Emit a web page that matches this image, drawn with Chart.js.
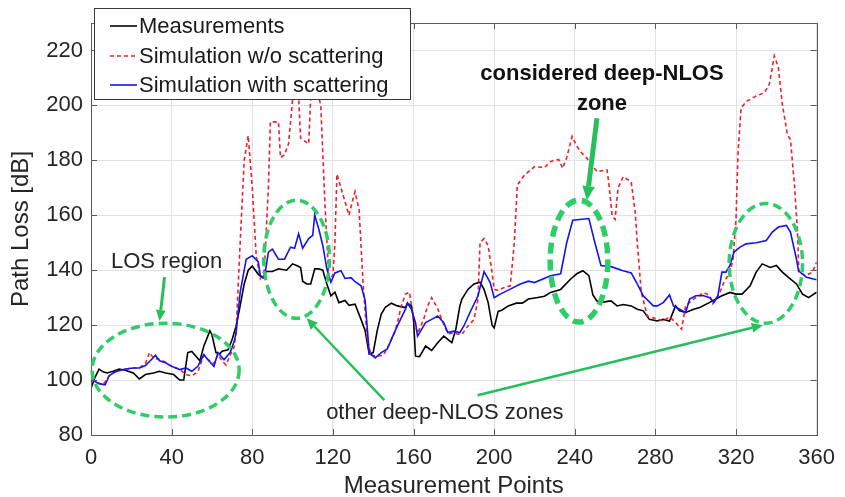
<!DOCTYPE html>
<html>
<head>
<meta charset="utf-8">
<script src="https://cdn.jsdelivr.net/npm/chart.js@4/dist/chart.umd.min.js"></script>
<style>
  html, body { margin: 0; padding: 0; background: #ffffff; }
  #wrap { width: 845px; height: 497px; }
</style>
</head>
<body>
<div id="wrap"><canvas id="c" width="845" height="497"></canvas></div>
<script>
// ---------------- data ----------------
const xTicks = [0, 40, 80, 120, 160, 200, 240, 280, 320, 360];
const yTicks = [80, 100, 120, 140, 160, 180, 200, 220];

const measX = [0,2,4,6,8,11,14,17,21,24,27,31,34,37,41,44,46,48,50,54,56,59,60,62,64,65,68,70,72,74,76,78,80,83,85,87,90,93,97,100,102,104,105,107,109,111,113,115,117,119,121,123,126,128,131,134,136,138,140,142,144,146,149,152,156,157,159,160,161,163,166,169,172,175,179,181,183,184,187,190,193,195,197,199,200,202,204,207,211,214,217,221,225,228,233,238,241,244,247,249,251,253,258,261,264,268,271,274,277,281,284,287,290,292,295,299,302,307,310,313,317,320,323,327,330,333,337,340,343,346,350,353,356,360];
const measY = [97,101,104,103,102.6,103.2,104,103.6,102.6,100.4,102,102.6,103.2,102.6,102,100,100,110,110.4,107,112.4,118,116.5,110,109.6,110.5,111,114.8,119.7,127,135,140,141.5,138.5,137.3,139.5,139.5,140.5,140,142.3,141.7,141,136,135,135,140.5,140.5,140,135,130.7,132,128.2,129,127.2,127.6,122,118,109.5,110,118,124,126.5,128,127,126.4,128,127,122,108.7,108.5,112.4,110.8,113.6,116,113.6,118.5,127,129.5,133,135,135.6,133,128.3,120,119,125,125.5,127,128,128,129.5,130,130.5,131.9,133,136.8,138.7,139.8,138,131,128.8,128.3,128.8,127,127.5,127,125.8,125.2,122.1,121.5,122.1,121.5,127,125.2,124.6,125.8,126.4,128.3,129.5,130.7,131.9,131.3,131.3,134.3,139.3,142.3,141,141.7,139.3,137.4,135,131.3,130,132];

const noScatX = [0,2,4,6,9,12,17,21,24,27,29,31,34,37,40,44,47,50,53,56,58,61,63,65,67,69,71,72,74,76,78,80,82,84,86,88,89,93,94,96,98,100,103,104,106,108,109,113,114,116,118,120,121,122,124,126,128,130,131,133,135,137,139,142,145,148,151,154,156,158,160,162,165,167,169,172,174,177,180,184,187,190,192,193,195,197,199,200,202,205,208,210,211.5,215,220,225,228,232,234,236,238.7,241,243,246,251,256,257,258.5,260,261.5,264,268,270,271,273,276,280,284,287,290,293,295,299,304,307,308.5,312,314,317,318.5,320,321,322.5,325,330,334,336.5,339,341,343,345.5,347,349,350.5,351.2,354.5,358,360];
const noScatY = [100,99.5,98.8,98.3,101.5,103,104,104.4,104.4,106,110,108,107.5,106.5,105,104,102,101.5,103,109,107.5,106,109.3,107,105.5,109,112,118,150,180,189,170,145,137,140,170,194,194,181,182,186,202,203,188,187,186,203,203,200,165,137,138,150,175,170,165,160,166,168.6,162,135,115,109,108.7,109,113,118,127,131.3,132,122,117,122,127,130,126,122,117,117,116.6,119.7,122,129.5,150,151.5,149,139,133,132.7,133.7,134.3,150,171,174.6,177.7,177.4,179.6,180.3,177.1,181,188.7,185.2,183,180.8,175.9,176.5,171,160,158.5,170,174,172.2,161,150,132,123.3,122.4,121.5,123,121,118.5,127,129.5,131.9,130.7,127.8,131.9,135.6,139.3,144,158.8,183,199,201.4,203.4,204.6,207.6,218,213.8,200.3,189.3,187.6,171,154,139.3,138,139.3,143];

const withScatX = [0,2,4,7,9,12,17,21,24,27,30,32,34,37,40,44,47,50,53,56,58,61,63,66,69,71,72,74,77,80,83,84,86,88,90,93,96,99,101,103,105,108,110,111,113,115,117,119,121,124,126,129,131,134,136,138,141,144,147,149,152,156,157,159,161,162,166,169,172,175,177,180,183,185,188,192,195,198,200,203,208,213,217,220,228,233,236,239,247,250,253,258,264,268,271,274,279,281,284,287,289,292,295,297,300,304,307,309,311,313,315,317,319,322,325,330,335,338,341,345,347,350,351,355,360];
const withScatY = [100,99.5,98.7,98.3,101.6,103,104,104.4,104.4,105.3,107.5,109,107,106.3,105,103.8,104.4,103.2,105,109.3,107.4,105,110,107.4,110,114,117.3,131.9,144,145.3,143,138,137,146.6,147.7,144,144,148.4,148,153.3,148,151.5,152.7,160,155,149,140.5,135.6,139,139.8,137,137.3,135.8,134.3,129,110,108.1,110,111.3,114.8,119.7,125.8,128,125.8,120.9,116,120.9,122.1,123.3,120.9,117.3,117.8,117.3,119.7,124.6,130.7,139.5,135.6,130,131.3,133.1,135,136,135.5,138,138.7,150,158.2,158.8,150,141.7,141.3,139.8,139,135,130.7,127,127,128.3,131,127,125.8,124.6,129.5,130.7,130.7,130,128.3,130.7,139.3,139.3,141.7,146.6,148.4,149.6,150,150.8,153.9,155.7,156.3,153.9,144,139.8,137.4,136.5];

const seriesLabels = ['Measurements', 'Simulation w/o scattering', 'Simulation with scattering'];

// ---------------- annotations (data coordinates) ----------------
const ellipses = [
  { cx: 37,    cy: 103.6, rx: 36.5, ry: 17.1, w: 3.5 },
  { cx: 102,   cy: 144,   rx: 16.3, ry: 21.5, w: 3.5 },
  { cx: 242.1, cy: 143.3, rx: 14.3, ry: 22.2, w: 5.5 },
  { cx: 334.8, cy: 142.5, rx: 18.2, ry: 21.8, w: 3.5 }
];
const arrows = [
  { x1: 36.5,  y1: 137.5, x2: 34,    y2: 121.5, w: 3, head: 11 },
  { x1: 251,   y1: 195.3, x2: 246,   y2: 165.5, w: 5, head: 14 },
  { x1: 145.5, y1: 92.7,  x2: 107,   y2: 122.5, w: 2.5, head: 11 },
  { x1: 191.8, y1: 94.5,  x2: 333.3, y2: 120,   w: 2.5, head: 11 }
];
const notes = [
  { text: 'LOS region', x: 37.5, y: 142.9, bold: false },
  { text: 'considered deep-NLOS', x: 253.5, y: 211.3, bold: true },
  { text: 'zone', x: 253.5, y: 200.7, bold: true },
  { text: 'other deep-NLOS zones', x: 175.5, y: 88, bold: false }
];

const FONT = "'Liberation Sans', Arial, Helvetica, sans-serif";
const GREEN_E = '#2fcc6a';
const GREEN_A = '#26bf5c';

function toPts(xs, ys) { return xs.map((v, i) => ({ x: v, y: ys[i] })); }

const overlay = {
  id: 'overlay',
  afterDatasetsDraw(chart) {
    const { ctx, chartArea: a, scales: { x, y } } = chart;
    ctx.save();
    // axes box with inward ticks
    ctx.strokeStyle = '#5a5a5a';
    ctx.lineWidth = 1;
    ctx.setLineDash([]);
    ctx.strokeRect(Math.round(a.left) + 0.5, Math.round(a.top) + 0.5, Math.round(a.right - a.left), Math.round(a.bottom - a.top));
    ctx.beginPath();
    xTicks.forEach(t => {
      const px = Math.round(x.getPixelForValue(t)) + 0.5;
      ctx.moveTo(px, a.bottom); ctx.lineTo(px, a.bottom - 6);
      ctx.moveTo(px, a.top); ctx.lineTo(px, a.top + 6);
    });
    yTicks.forEach(t => {
      const py = Math.round(y.getPixelForValue(t)) + 0.5;
      ctx.moveTo(a.left, py); ctx.lineTo(a.left + 6, py);
      ctx.moveTo(a.right, py); ctx.lineTo(a.right - 6, py);
    });
    ctx.stroke();

    // ellipses
    ctx.strokeStyle = GREEN_E;
    ellipses.forEach(e => {
      const cx = x.getPixelForValue(e.cx), cy = y.getPixelForValue(e.cy);
      const rx = Math.abs(x.getPixelForValue(e.cx + e.rx) - cx);
      const ry = Math.abs(y.getPixelForValue(e.cy + e.ry) - cy);
      ctx.lineWidth = e.w;
      ctx.setLineDash(e.w > 4 ? [11, 6] : [9, 5]);
      ctx.beginPath();
      ctx.ellipse(cx, cy, rx, ry, 0, 0, Math.PI * 2);
      ctx.stroke();
    });
    ctx.setLineDash([]);

    // arrows
    ctx.strokeStyle = GREEN_A;
    ctx.fillStyle = GREEN_A;
    arrows.forEach(r => {
      const x1 = x.getPixelForValue(r.x1), y1 = y.getPixelForValue(r.y1);
      const x2 = x.getPixelForValue(r.x2), y2 = y.getPixelForValue(r.y2);
      const ang = Math.atan2(y2 - y1, x2 - x1);
      const h = r.head, hw = h * 0.45;
      const bx = x2 - h * Math.cos(ang), by = y2 - h * Math.sin(ang);
      ctx.lineWidth = r.w;
      ctx.beginPath();
      ctx.moveTo(x1, y1); ctx.lineTo(bx, by);
      ctx.stroke();
      ctx.beginPath();
      ctx.moveTo(x2, y2);
      ctx.lineTo(bx + hw * Math.sin(ang), by - hw * Math.cos(ang));
      ctx.lineTo(bx - hw * Math.sin(ang), by + hw * Math.cos(ang));
      ctx.closePath();
      ctx.fill();
    });

    // text notes
    ctx.textAlign = 'center';
    ctx.textBaseline = 'middle';
    notes.forEach(n => {
      ctx.font = (n.bold ? 'bold ' : '') + '22px ' + FONT;
      ctx.fillStyle = n.bold ? '#111111' : '#262626';
      ctx.fillText(n.text, x.getPixelForValue(n.x), y.getPixelForValue(n.y));
    });
    ctx.restore();
  },
  afterDraw(chart) {
    // legend box (MATLAB style, overlapping the plot)
    const { ctx } = chart;
    const bx = 94, by = 8, bw = 316, bh = 91;
    ctx.save();
    ctx.fillStyle = '#ffffff';
    ctx.fillRect(bx, by, bw, bh);
    ctx.strokeStyle = '#3a3a3a';
    ctx.lineWidth = 1;
    ctx.strokeRect(bx + 0.5, by + 0.5, bw, bh);
    const rows = [26, 56, 85];
    chart.data.datasets.forEach((ds, i) => {
      ctx.strokeStyle = ds.borderColor;
      ctx.lineWidth = 1.6;
      ctx.setLineDash(ds.borderDash || []);
      ctx.beginPath();
      ctx.moveTo(110, rows[i]); ctx.lineTo(137, rows[i]);
      ctx.stroke();
      ctx.setLineDash([]);
      ctx.fillStyle = '#1a1a1a';
      ctx.font = '22px ' + FONT;
      ctx.textAlign = 'left';
      ctx.textBaseline = 'middle';
      ctx.fillText(ds.label, 139, rows[i] + 1);
    });
    ctx.restore();
  }
};

new Chart(document.getElementById('c'), {
  type: 'line',
  data: {
    datasets: [
      { label: seriesLabels[0], data: toPts(measX, measY), borderColor: '#000000', borderWidth: 1.6, pointRadius: 0, order: 3 },
      { label: seriesLabels[1], data: toPts(noScatX, noScatY), borderColor: '#ee1f2e', borderWidth: 1.6, borderDash: [4, 3], pointRadius: 0, order: 2 },
      { label: seriesLabels[2], data: toPts(withScatX, withScatY), borderColor: '#1414f0', borderWidth: 1.6, pointRadius: 0, order: 1 }
    ]
  },
  options: {
    responsive: false,
    animation: false,
    devicePixelRatio: 1,
    layout: { padding: { left: 0, right: 24, top: 23, bottom: 0 } },
    plugins: { legend: { display: false }, tooltip: { enabled: false } },
    elements: { line: { tension: 0 } },
    scales: {
      x: {
        type: 'linear', min: 0, max: 360,
        afterBuildTicks: s => { s.ticks = xTicks.map(v => ({ value: v })); },
        afterFit: s => { s.height = 62; },
        grid: { color: '#e2e2e2', drawTicks: false },
        border: { display: false },
        ticks: { padding: 10, color: '#262626', font: { family: FONT, size: 22 }, maxRotation: 0 },
        title: { display: true, text: 'Measurement Points', color: '#262626', font: { family: FONT, size: 24, lineHeight: 0.85 }, padding: { top: 0, bottom: 0 } }
      },
      y: {
        type: 'linear', min: 80, max: 230,
        afterBuildTicks: s => { s.ticks = yTicks.map(v => ({ value: v })); },
        afterFit: s => { s.width = 91; },
        grid: { color: '#e2e2e2', drawTicks: false },
        border: { display: false },
        ticks: { padding: 8, color: '#262626', font: { family: FONT, size: 22 } },
        title: { display: true, text: 'Path Loss [dB]', color: '#262626', font: { family: FONT, size: 24, lineHeight: 1 }, padding: { top: 9, bottom: 0 } }
      }
    }
  },
  plugins: [overlay]
});
</script>
</body>
</html>
